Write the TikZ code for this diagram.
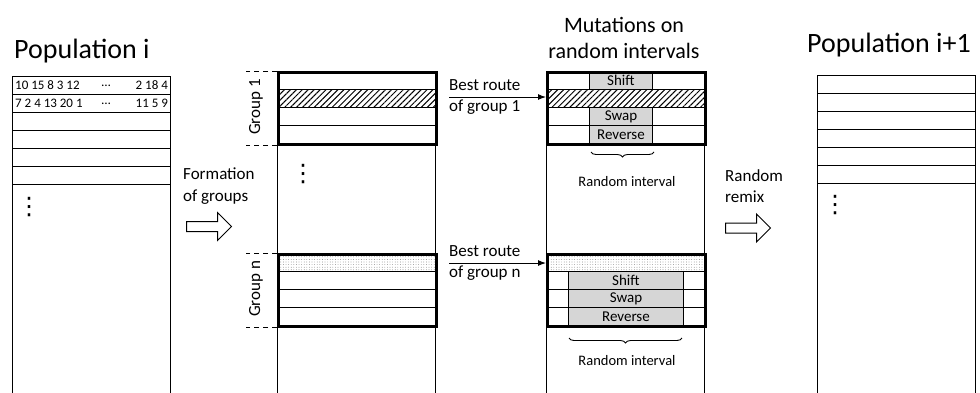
\documentclass[tikz,border=0pt]{standalone}
\usepackage{fontspec}
\setmainfont{Carlito}
\newfontfamily\dotsfont{DejaVu Sans}
\usetikzlibrary{positioning,shapes.arrows,patterns.meta,decorations.pathreplacing,arrows.meta}

\tikzset{
	colbox/.style={draw,line width=1.1pt,minimum width=158pt,inner sep=0pt,anchor=north west},
	rowbox/.style={draw,line width=1.1pt,minimum width=158pt,minimum height=18pt,inner sep=0pt,anchor=north west},
	groupbox/.style={draw,line width=2.8pt,minimum width=158pt,minimum height=72pt,inner sep=0pt,anchor=north west},
	cellbox/.style={draw,line width=0.9pt,fill=black!16,minimum height=18pt,inner sep=0pt,anchor=north west,font=\fontsize{15}{15}\selectfont},
	hatched/.style={pattern={Lines[angle=45,distance=4.2pt,line width=1pt]}},
	speckled/.style={pattern={Dots[distance=2.6pt,radius=0.35pt]},pattern color=black!70},
	title/.style={font=\fontsize{28}{30}\selectfont,inner sep=0pt},
	lbl/.style={font=\fontsize{17}{21.5}\selectfont,align=left,anchor=west,inner sep=0pt},
	small/.style={font=\fontsize{14.5}{14.5}\selectfont,inner sep=0pt},
	num/.style={font=\fontsize{13}{13}\selectfont,inner sep=0pt},
	grouplabel/.style={font=\fontsize{17}{17}\selectfont,rotate=90,inner sep=0pt},
	marker/.style={line width=1pt,dash pattern=on 5pt off 4pt},
	bigarrow/.style={draw,line width=1pt,single arrow,single arrow head extend=9pt,minimum height=45pt,inner xsep=0pt,inner ysep=4.5pt},
	vdotsnode/.style={font=\dotsfont\fontsize{24}{24}\selectfont,inner sep=0pt},
	brace/.style={decorate,decoration={brace,mirror,amplitude=5pt},line width=0.9pt}
}

\begin{document}
\begin{tikzpicture}[x=1pt,y=-1pt,>={Latex[length=8pt,width=6pt]}]
	\useasboundingbox (0,0) rectangle (980,392);
	
	\pgfmathsetmacro\xA{12}
	\pgfmathsetmacro\xB{277}
	\pgfmathsetmacro\xC{546}
	\pgfmathsetmacro\xD{817}
	\pgfmathsetmacro\rowH{18}
	\pgfmathsetmacro\yOne{71}  % top of group 1
	\pgfmathsetmacro\yN{253}   % top of group n
	
	%population i
	\node[title,anchor=base west] (popTitle) at (14,58) {Population i};
	\node[colbox,minimum height=330pt] (pop) at (\xA,76) {};
	\foreach \r in {1,...,6}{
		\node[rowbox] (pop\r) at (\xA,{76+\rowH*(\r-1)}) {};
	}
	\node[num,anchor=west] (seqA) at ([xshift=3pt]pop1.west) {10 15 8 3 12};
	\node[num] (gapA) at ([xshift=94pt]pop1.west) {\dots};
	\node[num,anchor=east] (endA) at ([xshift=-3pt]pop1.east) {2 18 4};
	\node[num,anchor=west] (seqB) at ([xshift=3pt]pop2.west) {7 2 4 13 20 1};
	\node[num] (gapB) at ([xshift=94pt]pop2.west) {\dots};
	\node[num,anchor=east] (endB) at ([xshift=-3pt]pop2.east) {11 5 9};
	\node[vdotsnode] (popDots) at (29,207) {⋮};
	
	%formation of groups
	\node[lbl] (formLbl) at (183,186) {Formation\\of groups};
	\node[bigarrow] (formArrow) at (206.5,226.5) {};
	
	%groups
	\node[colbox,minimum height=330pt] (grp) at (\xB,\yOne) {};
	\foreach \r in {1,...,4}{
		\node[rowbox] (grpA\r) at (\xB,{\yOne+\rowH*(\r-1)}) {};
		\node[rowbox] (grpN\r) at (\xB,{\yN+\rowH*(\r-1)}) {};
	}
	\node[rowbox,hatched] (grpBestA) at (grpA2.north west) {};
	\node[rowbox,speckled] (grpBestN) at (grpN1.north west) {};
	\node[groupbox] (grpA) at (\xB,\yOne) {};
	\node[groupbox] (grpN) at (\xB,\yN) {};
	\draw[marker] (grpA.north west) -- ++(-31,0);
	\draw[marker] (grpA.south west) -- ++(-31,0);
	\draw[marker] (grpN.north west) -- ++(-31,0);
	\draw[marker] (grpN.south west) -- ++(-31,0);
	\node[grouplabel] (grpLblA) at (256,107) {Group 1};
	\node[grouplabel] (grpLblN) at (256,289) {Group n};
	\node[vdotsnode] (grpDots) at (303,174) {⋮};
	
	%best routes
	\node[lbl] (bestA) at (449,97) {Best route\\of group 1};
	\node[lbl] (bestN) at (449,263) {Best route\\of group n};
	
	%mutations
	\node[font=\fontsize{22}{25.5}\selectfont,align=center,inner sep=0pt] (mutTitle) at (624,38) {Mutations on\\random intervals};
	\node[colbox,minimum height=330pt] (mut) at (\xC,\yOne) {};
	\foreach \r in {1,...,4}{
		\node[rowbox] (mutA\r) at (\xC,{\yOne+\rowH*(\r-1)}) {};
		\node[rowbox] (mutN\r) at (\xC,{\yN+\rowH*(\r-1)}) {};
	}
	\node[rowbox,hatched] (mutBestA) at (mutA2.north west) {};
	\node[rowbox,speckled] (mutBestN) at (mutN1.north west) {};
	
	\node[cellbox,minimum width=63pt] (shiftA) at (589,\yOne) {Shift};
	\node[cellbox,minimum width=63pt] (swapA) at (589,{\yOne+2*\rowH}) {Swap};
	\node[cellbox,minimum width=63pt] (revA) at (589,{\yOne+3*\rowH}) {Reverse};
	\node[cellbox,minimum width=115pt] (shiftN) at (568,{\yN+\rowH}) {Shift};
	\node[cellbox,minimum width=115pt] (swapN) at (568,{\yN+2*\rowH}) {Swap};
	\node[cellbox,minimum width=115pt] (revN) at (568,{\yN+3*\rowH}) {Reverse};
	
	\node[groupbox] (mutA) at (\xC,\yOne) {};
	\node[groupbox] (mutN) at (\xC,\yN) {};
	
	\draw[->,line width=1pt] (bestA.west) -- (bestA.west -| mutBestA.west);
	\draw[->,line width=1pt] (bestN.west) -- (bestN.west -| mutBestN.west);
	
	\coordinate (ivA1) at (591,152);
	\coordinate (ivA2) at (654,152);
	\coordinate (ivN1) at (569,338);
	\coordinate (ivN2) at (682,338);
	\draw[brace] (ivA1) -- (ivA2);
	\draw[brace] (ivN1) -- (ivN2);
	\node[small] (ivLblA) at (627,182) {Random interval};
	\node[small] (ivLblN) at (627,361) {Random interval};
	
	%random remix
	\node[lbl] (remixLbl) at (725,186) {Random\\remix};
	\node[bigarrow] (remixArrow) at (745.5,228) {};
	
	%population i+1
	\node[title,anchor=base west] (nextTitle) at (807,52) {Population i+1};
	\node[colbox,minimum height=330pt] (next) at (\xD,75) {};
	\foreach \r in {1,...,6}{
		\node[rowbox] (next\r) at (\xD,{75+\rowH*(\r-1)}) {};
	}
	\node[vdotsnode] (nextDots) at (835,205) {⋮};
\end{tikzpicture}
\end{document}
